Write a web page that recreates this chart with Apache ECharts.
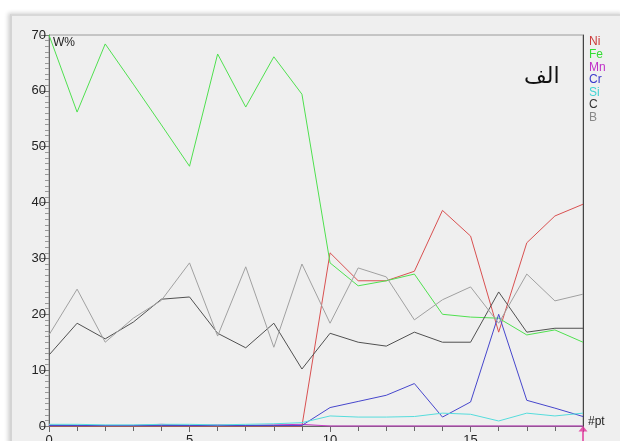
<!DOCTYPE html>
<html>
<head>
<meta charset="utf-8">
<script src="https://cdn.jsdelivr.net/npm/echarts@6/dist/echarts.min.js"></script>
<style>
  html, body { margin: 0; padding: 0; background: #ffffff; }
  #wrap { position: relative; width: 620px; height: 441px; overflow: hidden; }
  #panel { position: absolute; left: 10px; top: 14px; width: 612px; height: 430px;
           background: #efefef; border-top: 2px solid #d8d8d8; border-left: 2px solid #d4d4d4;
           box-shadow: -2px -1px 4px rgba(0,0,0,0.18); }
  #chart { position: absolute; left: 0; top: 0; width: 620px; height: 441px; }
</style>
</head>
<body>
<div id="wrap"><div id="panel"></div><div id="chart"></div></div>
<script>
const points = [0,1,2,3,4,5,6,7,8,9,10,11,12,13,14,15,16,17,18,19];
const seriesNames = ['Ni','Fe','Mn','Cr','Si','C','B'];
const Ni = [0,0,0,0,0,0,0,0,0,0,31,26,26,27.7,38.6,34,16.8,32.8,37.6,39.7];
const Fe = [70,56.2,68.4,61.2,53.9,46.5,66.6,57.1,66.1,59.4,29.2,25.1,26,27.2,20,19.5,19.3,16.3,17.2,15];
const Mn = [0.2,0.1,0.1,0.1,0.3,0.1,0.2,0.1,0.2,0.3,0,0,0,0,0,0,0,0,0,0];
const Cr = [0.1,0.1,0.1,0.1,0.1,0.1,0.1,0.1,0.1,0.1,3.3,4.4,5.5,7.6,1.6,4.3,20,4.6,3.2,1.7];
const Si = [0.3,0.3,0.2,0.2,0.3,0.3,0.2,0.3,0.4,0.6,1.8,1.6,1.6,1.7,2.3,2.1,0.9,2.3,1.8,2.3];
const C  = [12.7,18.4,15.6,18.6,22.7,23.1,16.6,14,18.4,10.2,16.6,15,14.3,16.8,15,15,24,16.8,17.5,17.5];
const B  = [16.3,24.5,15,19.3,22.5,29.2,16.1,28.5,14.1,29,18.4,28.3,26.7,19,22.6,24.9,18.4,27.2,22.4,23.6];
const cursorPoint = [19, 0];
const yTicks = [0,10,20,30,40,50,60,70];
const xTicks = [0,5,10,15];

const values = { Ni, Fe, Mn, Cr, Si, C, B };
const colors = { Ni:'#d85050', Fe:'#4fe04f', Mn:'#c83cc8', Cr:'#4646cc', Si:'#55dcdc', C:'#505050', B:'#a0a0a0' };
const legendColors = { Ni:'#cc3a3a', Fe:'#33dd33', Mn:'#c030c8', Cr:'#3a3acc', Si:'#40d4d4', C:'#333333', B:'#888888' };

const chart = echarts.init(document.getElementById('chart'), null, { renderer: 'canvas' });
const font = 'Liberation Sans, Arial, sans-serif';

const lineSeries = seriesNames.map(n => ({
  name: n, type: 'line', yAxisIndex: 0,
  data: points.map((p, i) => [p, values[n][i]]),
  showSymbol: false, symbol: 'none', silent: true, animation: false,
  lineStyle: { color: colors[n], width: 1 }, itemStyle: { color: colors[n] },
  clip: false, z: 3
}));

lineSeries.push({
  name: 'cursor', type: 'scatter', yAxisIndex: 0, data: [cursorPoint],
  symbol: 'path://M5,0 L10,7 L6,7 L6,20 L4,20 L4,7 L0,7 Z',
  symbolSize: [9, 16], symbolOffset: [0, 8], clip: false, silent: true,
  itemStyle: { color: '#e0309a' }, z: 5, animation: false
});

const option = {
  animation: false,
  textStyle: { fontFamily: font },
  grid: { left: 49, right: 37, top: 35, bottom: 15, show: true, borderColor: '#9a9a9a', borderWidth: 1,
          containLabel: false, outerBoundsMode: 'none' },
  title: { text: 'الف', left: 519, top: 61, textStyle: { fontFamily: 'DejaVu Sans', fontSize: 22, fontWeight: 'normal', color: '#111' } },
  legend: {
    orient: 'vertical', left: 584, top: 31, itemWidth: 0, itemHeight: 0, itemGap: 0.6, icon: 'none',
    selectedMode: false,
    data: seriesNames.map(n => ({ name: n, textStyle: { color: legendColors[n], fontSize: 12, fontFamily: font, padding: [0,0,0,-5] } })),
    textStyle: { fontSize: 12, lineHeight: 11 }
  },
  xAxis: {
    type: 'value', min: 0, max: 19, interval: 5,
    axisLine: { show: true, lineStyle: { color: '#666', width: 1 } },
    axisTick: { show: true, length: 6, lineStyle: { color: '#666' } },
    minorTick: { show: true, splitNumber: 5, length: 5, lineStyle: { color: '#666' } },
    splitLine: { show: false },
    axisLabel: { margin: 8, fontSize: 13, color: '#222', customValues: xTicks }
  },
  yAxis: [{
    type: 'value', min: 0, max: 70, interval: 10,
    axisLine: { show: true, lineStyle: { color: '#666', width: 1 } },
    axisTick: { show: true, length: 8, lineStyle: { color: '#777' } },
    minorTick: { show: true, splitNumber: 10, length: 4, lineStyle: { color: '#999' } },
    splitLine: { show: false },
    axisLabel: { margin: 3, fontSize: 13, color: '#222', customValues: yTicks },
    name: 'W%', nameLocation: 'end', nameGap: 0,
    nameTextStyle: { fontSize: 12, color: '#222', align: 'left', verticalAlign: 'top', padding: [2,0,0,4] }
  }, {
    type: 'value', position: 'right', min: 0, max: 70,
    axisLine: { show: true, lineStyle: { color: '#444', width: 1 } },
    axisTick: { show: false }, axisLabel: { show: false }, splitLine: { show: false },
    name: '#pt', nameLocation: 'start', nameGap: 0,
    nameTextStyle: { fontSize: 12, color: '#222', align: 'left', verticalAlign: 'bottom', padding: [0,0,-2,5] }
  }],
  series: lineSeries
};
chart.setOption(option);
</script>
</body>
</html>
